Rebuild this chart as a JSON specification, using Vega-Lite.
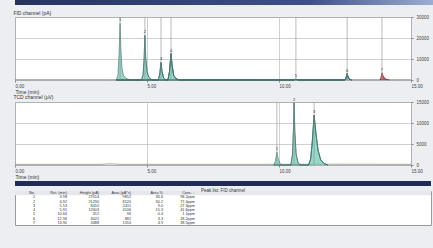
{
  "$schema": "https://vega.github.io/schema/vega-lite/v6.json",
  "background": "#eceef1",
  "padding": {"left": 12, "top": 0, "right": 5, "bottom": 23},
  "bounds": "flush",
  "spacing": 0,
  "config": {
    "font": "Liberation Sans",
    "view": {"stroke": "#9a9a9a", "fill": "white"},
    "axis": {"labelFontSize": 4.5, "labelColor": "#444", "titleFontSize": 5, "titleFontWeight": "normal", "titleColor": "#333", "gridColor": "#bcbcbc", "gridWidth": 0.7, "tickColor": "#888", "tickSize": 2, "domain": false, "labelPadding": 1},
    "title": {"fontSize": 5, "fontWeight": "normal", "anchor": "start", "color": "#333", "offset": -2}
  },
  "vconcat": [
    {
      "width": 421, "height": 5,
      "view": {"stroke": null},
      "data": {"values": [{}]},
      "mark": {"type": "rect", "color": {"gradient": "linear", "x1": 0, "x2": 1, "y1": 0, "y2": 0, "stops": [{"offset": 0, "color": "#26335f"}, {"offset": 0.7, "color": "#3d5088"}, {"offset": 1, "color": "#9eb0d4"}]}}
    },
    {"width": 10, "height": 12, "view": {"stroke": null, "fill": null}, "data": {"values": []}, "mark": "point"},
    {
      "width": 396, "height": 63,
      "title": {"text": "FID channel (pA)"},
      "encoding": {
        "x": {"field": "t", "type": "quantitative", "scale": {"domain": [0, 15], "nice": false}, "axis": {"values": [0, 5, 10, 15], "format": ".2f", "labelAlign": "left", "grid": true, "title": "Time (min)", "titleAnchor": "start", "titlePadding": 2}},
        "y": {"field": "h", "type": "quantitative", "scale": {"domain": [0, 30000], "nice": false}, "axis": {"orient": "right", "values": [0, 10000, 20000, 30000], "tickCount": 4, "format": "d", "grid": true, "title": null, "labelPadding": 3, "labelOverlap": false}}
      },
      "layer": [
        {
          "data": {"values": [{"t": 0, "h": 150}, {"t": 3.5, "h": 150}, {"t": 6.5, "h": 250}, {"t": 10.0, "h": 200}, {"t": 15, "h": 150}]},
          "mark": {"type": "line", "color": "#8a8a8a", "strokeWidth": 0.8}
        },
        {
          "data": {"values": [
            {"p": "1", "t": 3.84, "h": 0}, {"p": "1", "t": 3.90, "h": 2500}, {"p": "1", "t": 3.94, "h": 12000}, {"p": "1", "t": 3.98, "h": 27000}, {"p": "1", "t": 4.01, "h": 15000}, {"p": "1", "t": 4.05, "h": 6000}, {"p": "1", "t": 4.11, "h": 2000}, {"p": "1", "t": 4.22, "h": 700}, {"p": "1", "t": 4.40, "h": 0},
            {"p": "2", "t": 4.79, "h": 0}, {"p": "2", "t": 4.85, "h": 2500}, {"p": "2", "t": 4.89, "h": 10000}, {"p": "2", "t": 4.92, "h": 21300}, {"p": "2", "t": 4.95, "h": 11000}, {"p": "2", "t": 5.00, "h": 4000}, {"p": "2", "t": 5.07, "h": 1300}, {"p": "2", "t": 5.20, "h": 0},
            {"p": "3", "t": 5.42, "h": 0}, {"p": "3", "t": 5.48, "h": 2500}, {"p": "3", "t": 5.53, "h": 8400}, {"p": "3", "t": 5.57, "h": 4000}, {"p": "3", "t": 5.63, "h": 1000}, {"p": "3", "t": 5.72, "h": 0},
            {"p": "4", "t": 5.79, "h": 0}, {"p": "4", "t": 5.85, "h": 3800}, {"p": "4", "t": 5.91, "h": 12600}, {"p": "4", "t": 5.95, "h": 7000}, {"p": "4", "t": 6.01, "h": 2200}, {"p": "4", "t": 6.10, "h": 600}, {"p": "4", "t": 6.22, "h": 0},
            {"p": "5", "t": 10.55, "h": 0}, {"p": "5", "t": 10.64, "h": 350}, {"p": "5", "t": 10.74, "h": 0},
            {"p": "6", "t": 12.50, "h": 0}, {"p": "6", "t": 12.54, "h": 900}, {"p": "6", "t": 12.58, "h": 3000}, {"p": "6", "t": 12.62, "h": 1100}, {"p": "6", "t": 12.68, "h": 300}, {"p": "6", "t": 12.75, "h": 0}
          ]},
          "mark": {"type": "area", "color": "#6cc6b2", "line": {"color": "#3a6f68", "strokeWidth": 0.6}},
          "encoding": {"detail": {"field": "p"}}
        },
        {
          "data": {"values": [
            {"p": "7", "t": 13.82, "h": 0}, {"p": "7", "t": 13.86, "h": 1200}, {"p": "7", "t": 13.90, "h": 3500}, {"p": "7", "t": 13.94, "h": 2200}, {"p": "7", "t": 14.00, "h": 900}, {"p": "7", "t": 14.08, "h": 300}, {"p": "7", "t": 14.18, "h": 0}
          ]},
          "mark": {"type": "area", "color": "#a3262c", "line": {"color": "#6d1a1e", "strokeWidth": 0.6}},
          "encoding": {"detail": {"field": "p"}}
        },
        {
          "data": {"values": [
            {"n": "1", "t": 3.98, "h": 27000}, {"n": "2", "t": 4.92, "h": 21300}, {"n": "3", "t": 5.53, "h": 8400}, {"n": "4", "t": 5.91, "h": 12600}, {"n": "5", "t": 10.64, "h": 350}, {"n": "6", "t": 12.58, "h": 3000}, {"n": "7", "t": 13.90, "h": 3500}
          ]},
          "layer": [
            {"mark": {"type": "rule", "color": "#8d8d8d", "strokeWidth": 0.6}, "encoding": {"y": {"datum": 0, "type": "quantitative"}, "y2": {"datum": 30000}}},
            {"mark": {"type": "text", "fontSize": 4, "color": "#333", "dy": -3}, "encoding": {"text": {"field": "n"}}}
          ]
        }
      ]
    },
    {"width": 10, "height": 22, "view": {"stroke": null, "fill": null}, "data": {"values": []}, "mark": "point"},
    {
      "width": 396, "height": 63,
      "title": {"text": "TCD channel (µV)"},
      "encoding": {
        "x": {"field": "t", "type": "quantitative", "scale": {"domain": [0, 15], "nice": false}, "axis": {"values": [0, 5, 10, 15], "format": ".2f", "labelAlign": "left", "grid": true, "title": "Time (min)", "titleAnchor": "start", "titlePadding": 2}},
        "y": {"field": "h", "type": "quantitative", "scale": {"domain": [0, 15000], "nice": false}, "axis": {"orient": "right", "values": [0, 5000, 10000, 15000], "format": "d", "grid": true, "title": null, "labelPadding": 3, "labelOverlap": false}}
      },
      "layer": [
        {
          "data": {"values": [{"t": 0, "h": 150}, {"t": 3.3, "h": 150}, {"t": 3.5, "h": 260}, {"t": 3.8, "h": 230}, {"t": 3.95, "h": 150}, {"t": 9.5, "h": 150}, {"t": 12.0, "h": 180}, {"t": 15, "h": 150}]},
          "mark": {"type": "line", "color": "#8a8a8a", "strokeWidth": 0.8}
        },
        {
          "data": {"values": [
            {"p": "1", "t": 9.80, "h": 0}, {"p": "1", "t": 9.86, "h": 900}, {"p": "1", "t": 9.92, "h": 3100}, {"p": "1", "t": 9.97, "h": 1400}, {"p": "1", "t": 10.04, "h": 300}, {"p": "1", "t": 10.12, "h": 0},
            {"p": "2", "t": 10.45, "h": 0}, {"p": "2", "t": 10.51, "h": 2500}, {"p": "2", "t": 10.55, "h": 9000}, {"p": "2", "t": 10.57, "h": 14800}, {"p": "2", "t": 10.60, "h": 8000}, {"p": "2", "t": 10.65, "h": 2500}, {"p": "2", "t": 10.72, "h": 600}, {"p": "2", "t": 10.80, "h": 0},
            {"p": "3", "t": 11.12, "h": 0}, {"p": "3", "t": 11.20, "h": 1500}, {"p": "3", "t": 11.26, "h": 5500}, {"p": "3", "t": 11.33, "h": 11900}, {"p": "3", "t": 11.40, "h": 7500}, {"p": "3", "t": 11.48, "h": 3500}, {"p": "3", "t": 11.58, "h": 1200}, {"p": "3", "t": 11.72, "h": 300}, {"p": "3", "t": 11.85, "h": 0}
          ]},
          "mark": {"type": "area", "color": "#6cc6b2", "line": {"color": "#3a6f68", "strokeWidth": 0.6}},
          "encoding": {"detail": {"field": "p"}}
        },
        {
          "data": {"values": [
            {"n": "1", "t": 9.92, "h": 3100}, {"n": "2", "t": 10.57, "h": 14800}, {"n": "3", "t": 11.33, "h": 11900}
          ]},
          "layer": [
            {"mark": {"type": "rule", "color": "#8d8d8d", "strokeWidth": 0.6}, "encoding": {"y": {"datum": 0, "type": "quantitative"}, "y2": {"datum": 15000}}},
            {"mark": {"type": "text", "fontSize": 4, "color": "#333", "dy": -3}, "encoding": {"text": {"field": "n"}}}
          ]
        }
      ]
    },
    {"width": 10, "height": 16, "view": {"stroke": null, "fill": null}, "data": {"values": []}, "mark": "point"},
    {
      "width": 416, "height": 5,
      "view": {"stroke": null},
      "data": {"values": [{}]},
      "mark": {"type": "rect", "color": "#1f2c58"}
    },
    {"width": 10, "height": 5, "view": {"stroke": null, "fill": null}, "data": {"values": []}, "mark": "point"},
    {
      "width": 416, "height": 34,
      "title": {"text": "Peak list: FID channel", "anchor": "middle", "fontSize": 4.5, "offset": -1},
      "data": {"values": [
        {"r": "h", "c": "No.", "v": "No."}, {"r": "h", "c": "Ret", "v": "Ret. (min)"}, {"r": "h", "c": "Height", "v": "Height (pA)"}, {"r": "h", "c": "Area", "v": "Area (pA*s)"}, {"r": "h", "c": "Pct", "v": "Area %"}, {"r": "h", "c": "Conc", "v": "Conc. ↓"},
        {"r": "1", "c": "No.", "v": "1"}, {"r": "1", "c": "Ret", "v": "3.98"}, {"r": "1", "c": "Height", "v": "27014"}, {"r": "1", "c": "Area", "v": "9852"}, {"r": "1", "c": "Pct", "v": "36.6"}, {"r": "1", "c": "Conc", "v": "98.2ppm"},
        {"r": "2", "c": "No.", "v": "2"}, {"r": "2", "c": "Ret", "v": "4.92"}, {"r": "2", "c": "Height", "v": "21290"}, {"r": "2", "c": "Area", "v": "8120"}, {"r": "2", "c": "Pct", "v": "30.2"}, {"r": "2", "c": "Conc", "v": "77.4ppm"},
        {"r": "3", "c": "No.", "v": "3"}, {"r": "3", "c": "Ret", "v": "5.53"}, {"r": "3", "c": "Height", "v": "8410"}, {"r": "3", "c": "Area", "v": "2411"}, {"r": "3", "c": "Pct", "v": "9.0"}, {"r": "3", "c": "Conc", "v": "27.3ppm"},
        {"r": "4", "c": "No.", "v": "4"}, {"r": "4", "c": "Ret", "v": "5.91"}, {"r": "4", "c": "Height", "v": "12603"}, {"r": "4", "c": "Area", "v": "4106"}, {"r": "4", "c": "Pct", "v": "15.3"}, {"r": "4", "c": "Conc", "v": "41.6ppm"},
        {"r": "5", "c": "No.", "v": "5"}, {"r": "5", "c": "Ret", "v": "10.64"}, {"r": "5", "c": "Height", "v": "312"}, {"r": "5", "c": "Area", "v": "96"}, {"r": "5", "c": "Pct", "v": "0.4"}, {"r": "5", "c": "Conc", "v": "1.1ppm"},
        {"r": "6", "c": "No.", "v": "6"}, {"r": "6", "c": "Ret", "v": "12.58"}, {"r": "6", "c": "Height", "v": "3021"}, {"r": "6", "c": "Area", "v": "882"}, {"r": "6", "c": "Pct", "v": "3.3"}, {"r": "6", "c": "Conc", "v": "18.2ppm"},
        {"r": "7", "c": "No.", "v": "7"}, {"r": "7", "c": "Ret", "v": "13.90"}, {"r": "7", "c": "Height", "v": "3488"}, {"r": "7", "c": "Area", "v": "1310"}, {"r": "7", "c": "Pct", "v": "4.9"}, {"r": "7", "c": "Conc", "v": "38.5ppm"}
      ]},
      "layer": [
        {
          "transform": [{"filter": "datum.r === 'h' && datum.c === 'No.'"}],
          "mark": {"type": "rect", "color": "#e6e8eb"},
          "encoding": {"y": {"field": "r", "type": "ordinal", "scale": {"domain": ["h", "1", "2", "3", "4", "5", "6", "7"], "paddingInner": 0, "paddingOuter": 0}, "axis": null}}
        },
        {
          "mark": {"type": "text", "fontSize": 3.8, "color": "#333", "align": "right", "baseline": "middle"},
          "encoding": {
            "x": {"field": "c", "type": "ordinal", "scale": {"type": "point", "domain": ["No.", "Ret", "Height", "Area", "Pct", "Conc"], "range": [4, 196]}, "axis": null},
            "y": {"field": "r", "type": "ordinal", "axis": null},
            "text": {"field": "v"}
          }
        }
      ]
    }
  ]
}
